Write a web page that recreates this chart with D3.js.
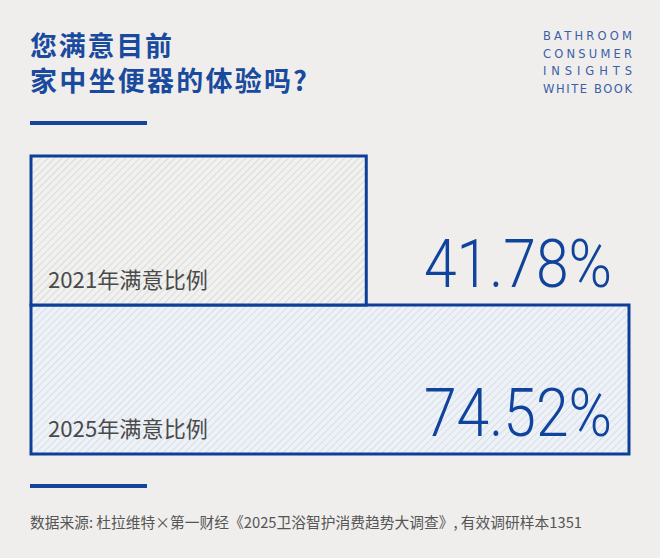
<!DOCTYPE html>
<html><head><meta charset="utf-8">
<script src="https://cdn.jsdelivr.net/npm/d3@7"></script>
<style>
html,body{margin:0;padding:0;background:#efeeec;}
svg{display:block;}
</style></head>
<body>
<svg id="chart" width="660" height="558"></svg>
<script>
const titleLines = ["您满意目前", "家中坐便器的体验吗?"];
const brandLines = ["BATHROOM", "CONSUMER", "INSIGHTS", "WHITE BOOK"];
const categories = ["2021年满意比例", "2025年满意比例"];
const values = [41.78, 74.52];
const valueLabels = ["41.78%", "74.52%"];
const source = "数据来源: 杜拉维特×第一财经《2025卫浴智护消费趋势大调查》, 有效调研样本1351";

const svg = d3.select("#chart");
const W = 660, H = 558;
const blue = "#0e3f98";
const cjk = "'Noto Sans CJK SC', 'Noto Sans', sans-serif";

svg.append("rect").attr("width", W).attr("height", H).attr("fill", "#efeeec");

const defs = svg.append("defs");
function hatch(id, bg, line) {
  const p = defs.append("pattern").attr("id", id).attr("patternUnits", "userSpaceOnUse")
    .attr("width", 5).attr("height", 5).attr("patternTransform", "rotate(45)");
  p.append("rect").attr("width", 5).attr("height", 5).attr("fill", bg);
  p.append("line").attr("x1", 0).attr("y1", 0).attr("x2", 0).attr("y2", 5)
    .attr("stroke", line).attr("stroke-width", 1.3);
}
hatch("h0", "#f1f1f0", "#cfcfcf");
hatch("h1", "#eef2f6", "#c8d4e5");

// title
const titleWidths = [142, 277];
svg.append("g").selectAll("text").data(titleLines).join("text")
  .attr("x", 30).attr("y", (d, i) => 56 + i * 35)
  .attr("font-family", cjk).attr("font-weight", 700).attr("font-size", 27)
  .attr("textLength", (d, i) => titleWidths[i]).attr("lengthAdjust", "spacing")
  .attr("fill", "#1a4a9e").text(d => d);

svg.append("rect").attr("x", 30).attr("y", 121).attr("width", 117).attr("height", 4).attr("fill", "#14449c");

// brand
svg.append("g").selectAll("text").data(brandLines).join("text")
  .attr("x", 543).attr("y", (d, i) => 40 + i * 17.5)
  .attr("font-family", "'DejaVu Sans', sans-serif").attr("font-size", 11.5)
  .attr("textLength", 89).attr("lengthAdjust", "spacing")
  .attr("fill", "#3d5ea8").text(d => d);

// scales
const x = d3.scaleLinear().domain([0, d3.max(values)]).range([31, 629]);
const y = d3.scaleBand().domain(categories).range([156, 454]).paddingInner(0).paddingOuter(0);

const data = categories.map((c, i) => ({c, v: values[i], lab: valueLabels[i], i}));

const order = [1, 0];
svg.append("g").selectAll("rect").data(order.map(i => data[i])).join("rect")
  .attr("x", x(0)).attr("y", d => y(d.c))
  .attr("width", d => x(d.v) - x(0)).attr("height", y.bandwidth())
  .attr("fill", d => d.i === 0 ? "url(#h0)" : "url(#h1)")
  .attr("stroke", blue).attr("stroke-width", 3);

// category labels
svg.append("g").selectAll("text").data(data).join("text")
  .attr("x", 48).attr("y", d => y(d.c) + y.bandwidth() - 17)
  .attr("font-family", cjk).attr("font-size", 22).attr("font-weight", 400)
  .attr("textLength", 160).attr("lengthAdjust", "spacingAndGlyphs")
  .attr("fill", "#4a4a4a").text(d => d.c);

// value labels
svg.append("g").selectAll("text").data(data).join("text")
  .attr("x", 424).attr("y", d => y(d.c) + y.bandwidth() - 18)
  .attr("font-family", "Roboto, 'DejaVu Sans', sans-serif").attr("font-weight", 300).attr("font-size", 67)
  .attr("textLength", 188).attr("lengthAdjust", "spacingAndGlyphs")
  .attr("fill", "#10439c").text(d => d.lab);

svg.append("rect").attr("x", 30).attr("y", 484).attr("width", 117).attr("height", 4).attr("fill", "#14449c");

svg.append("text").attr("x", 30).attr("y", 528)
  .attr("font-family", cjk).attr("font-size", 15)
  .attr("textLength", 552).attr("lengthAdjust", "spacingAndGlyphs")
  .attr("fill", "#555").text(source);
</script>
</body></html>
